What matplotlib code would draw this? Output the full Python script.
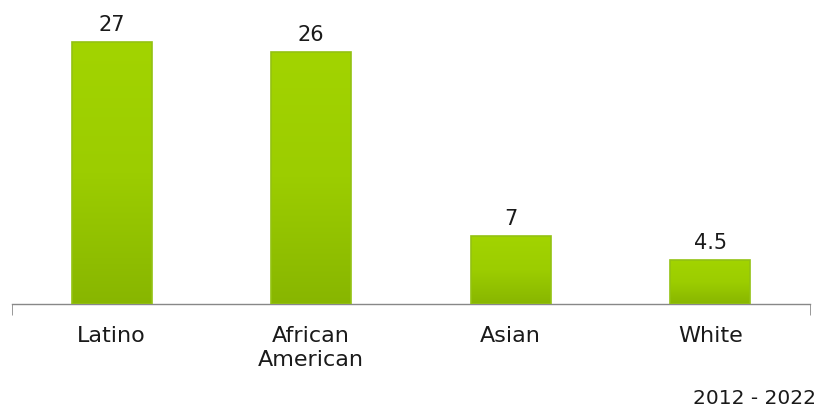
import matplotlib
matplotlib.use("Agg")
import matplotlib.pyplot as plt
import numpy as np
from matplotlib.colors import LinearSegmentedColormap

categories = ["Latino", "African\nAmerican", "Asian", "White"]
values = [27, 26, 7, 4.5]
value_labels = ["27", "26", "7", "4.5"]
footnote = "2012 - 2022"

W, H = 817, 411
fig = plt.figure(figsize=(W / 100, H / 100), dpi=100)
ax = fig.add_axes([12 / W, 1 - 304 / H, (810 - 12) / W, (304 - 13) / H])
ax.set_xlim(-0.5, len(categories) - 0.5)
ax.set_ylim(0, 30)

cmap = LinearSegmentedColormap.from_list("g", ["#88b600", "#9ccd00", "#a2d400"])
grad = np.linspace(0, 1, 256).reshape(-1, 1)
bw = 0.4
x = np.arange(len(categories))
bars = ax.bar(x, values, width=bw, color="none", edgecolor="#93c213", linewidth=1.2, zorder=3)
for b in bars:
    x0, y0 = b.get_x(), b.get_y()
    im = ax.imshow(grad, extent=[x0, x0 + b.get_width(), y0, y0 + b.get_height()],
                   origin="lower", cmap=cmap, aspect="auto", zorder=2)
    im.set_clip_path(b)

for xi, v, lab in zip(x, values, value_labels):
    ax.annotate(lab, (xi, v), xytext=(0, 5), textcoords="offset points",
                ha="center", va="bottom", fontsize=15, color="#1a1a1a")

for s in ["top", "right", "left"]:
    ax.spines[s].set_visible(False)
ax.spines["bottom"].set_color("#888888")
ax.spines["bottom"].set_linewidth(1)
ax.set_yticks([])
ax.set_xticks(x)
ax.set_xticklabels(categories, fontsize=16, color="#1a1a1a", linespacing=1.25)
ax.tick_params(axis="x", which="major", length=0, pad=16)
ax.set_xticks([-0.5, len(categories) - 0.5], minor=True)
ax.tick_params(axis="x", which="minor", length=8, color="#888888", direction="out")
ax.set_xlim(-0.5, len(categories) - 0.5)

fig.text(693 / W, 1 - 398 / H, footnote, fontsize=14.5, color="#1a1a1a", ha="left", va="center")
fig.savefig("out.png", dpi=100)
